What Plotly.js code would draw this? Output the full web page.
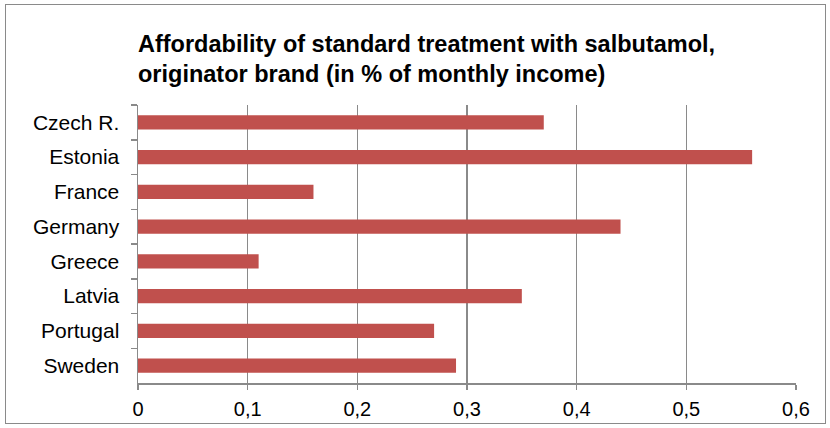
<!DOCTYPE html>
<html>
<head>
<meta charset="utf-8">
<script src="https://cdn.plot.ly/plotly-3.0.1.min.js"></script>
<style>
html,body{margin:0;padding:0;background:#fff;}
#wrap{position:relative;width:830px;height:428px;}
#chart{width:830px;height:428px;}
#frame{position:absolute;left:5px;top:4px;width:819px;height:418px;border:1px solid #8a8a8a;pointer-events:none;}
</style>
</head>
<body>
<div id="wrap"><div id="chart"></div><div id="frame"></div></div>
<script>
const countries = ["Czech R.", "Estonia", "France", "Germany", "Greece", "Latvia", "Portugal", "Sweden"];
const values = [0.37, 0.56, 0.16, 0.44, 0.11, 0.35, 0.27, 0.29];
const xTicks = [0, 0.1, 0.2, 0.3, 0.4, 0.5, 0.6];
const titleText = "Affordability of standard treatment with salbutamol,<br>originator brand (in % of monthly income)";

const trace = {
  type: "bar",
  orientation: "h",
  y: countries,
  x: values,
  marker: {color: "#C0504D"},
  hoverinfo: "x+y"
};

const layout = {
  width: 830,
  height: 428,
  margin: {l: 138, r: 34, t: 105, b: 45},
  paper_bgcolor: "#ffffff",
  plot_bgcolor: "#ffffff",
  separators: ",.",
  bargap: 0.59,
  showlegend: false,
  font: {family: "Liberation Sans, Arial, sans-serif", color: "#000000", size: 20},
  title: {
    text: titleText,
    font: {family: "Liberation Sans, Arial, sans-serif", size: 23.5, color: "#000000", weight: "bold"},
    xref: "paper", x: 0, xanchor: "left",
    yref: "container", y: 0.879, yanchor: "top"
  },
  xaxis: {
    range: [0, 0.6],
    tickvals: xTicks,
    showgrid: true,
    gridcolor: "#8a8a8a",
    gridwidth: 1.5,
    zeroline: false,
    showline: true,
    linecolor: "#8a8a8a",
    linewidth: 1.5,
    ticks: "outside",
    ticklen: 5,
    tickcolor: "#8a8a8a",
    tickwidth: 1.5,
    tickfont: {size: 20},
    ticklabelstandoff: 2,
    fixedrange: true
  },
  yaxis: {
    type: "category",
    autorange: "reversed",
    showgrid: false,
    zeroline: false,
    showline: true,
    linecolor: "#8a8a8a",
    linewidth: 1.5,
    ticks: "outside",
    tickson: "boundaries",
    ticklen: 6,
    tickcolor: "#8a8a8a",
    tickwidth: 1.5,
    tickfont: {size: 21},
    ticklabelstandoff: 13,
    fixedrange: true
  }
};

Plotly.newPlot("chart", [trace], layout, {displayModeBar: false, staticPlot: true});
</script>
</body>
</html>
